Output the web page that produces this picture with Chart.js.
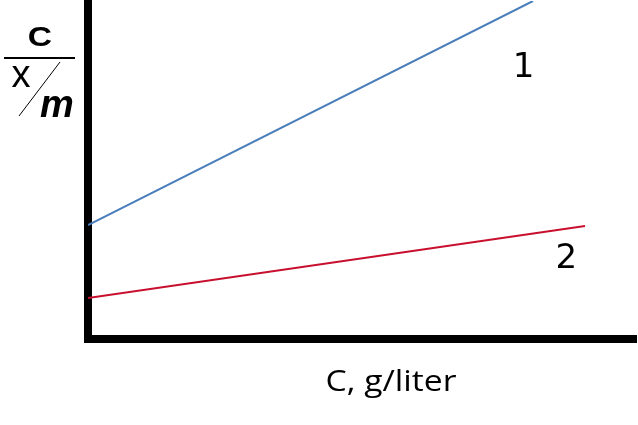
<!DOCTYPE html>
<html>
<head>
<meta charset="utf-8">
<script src="https://cdn.jsdelivr.net/npm/chart.js@4"></script>
<style>
  html, body { margin: 0; padding: 0; background: #fff; }
  canvas { display: block; }
</style>
</head>
<body>
<canvas id="chart" width="638" height="425"></canvas>
<script>
// concentration (arbitrary units, x axis 0..100)
const concStart = [0, 0];
const concEnd = [81.2, 90.7];
// C/(x/m) values at start and end of each line (y axis 0..100)
const line1Values = [33.7, 100];
const line2Values = [12.1, 33.4];
const seriesLabels = ['1', '2'];
const seriesColors = ['#4a7ebb', '#c8102e'];
const xTitle = 'C, g/liter';

// text labels placed next to each line, in data units
const labelAt = [{ x: 79.5, y: 81 }, { x: 87.3, y: 24.5 }];

const textPlugin = {
  id: 'texts',
  afterDraw(chart) {
    const ctx = chart.ctx;
    const xs = chart.scales.x, ys = chart.scales.y;
    ctx.save();
    ctx.fillStyle = '#000';
    ctx.textAlign = 'center';
    ctx.textBaseline = 'alphabetic';

    // line numbers
    ctx.font = '34px "DejaVu Sans"';
    seriesLabels.forEach((lab, i) => {
      ctx.fillText(lab, xs.getPixelForValue(labelAt[i].x), ys.getPixelForValue(labelAt[i].y) + 12);
    });

    // x axis title
    ctx.font = '30px "Open Sans"';
    const w = ctx.measureText(xTitle).width;
    ctx.save();
    ctx.translate(391, 391);
    ctx.scale(131 / w, 1);
    ctx.fillText(xTitle, 0, 0);
    ctx.restore();

    // y axis title:  C / (x/m)
    ctx.font = 'bold 28px "Liberation Sans"';
    ctx.save();
    ctx.translate(40, 46);
    ctx.scale(1.2, 1);
    ctx.fillText('C', 0, 0);
    ctx.restore();

    ctx.lineWidth = 2;
    ctx.beginPath();
    ctx.moveTo(4, 58);
    ctx.lineTo(75, 58);
    ctx.stroke();

    ctx.font = '38px "Liberation Sans"';
    ctx.fillText('x', 21, 87);

    ctx.lineWidth = 1;
    ctx.beginPath();
    ctx.moveTo(19, 116);
    ctx.lineTo(60, 62);
    ctx.stroke();

    ctx.font = 'bold italic 38px "Liberation Sans"';
    ctx.fillText('m', 57, 117);
    ctx.restore();
  }
};

new Chart(document.getElementById('chart'), {
  type: 'scatter',
  data: {
    datasets: [
      {
        label: seriesLabels[0],
        data: [
          { x: concStart[0], y: line1Values[0] },
          { x: concEnd[0], y: line1Values[1] }
        ],
        showLine: true,
        borderColor: seriesColors[0],
        borderWidth: 2,
        pointRadius: 0
      },
      {
        label: seriesLabels[1],
        data: [
          { x: concStart[1], y: line2Values[0] },
          { x: concEnd[1], y: line2Values[1] }
        ],
        showLine: true,
        borderColor: seriesColors[1],
        borderWidth: 2,
        pointRadius: 0
      }
    ]
  },
  options: {
    responsive: false,
    animation: false,
    layout: { padding: { left: 88, top: 1, right: 2, bottom: 86 } },
    plugins: { legend: { display: false }, tooltip: { enabled: false } },
    scales: {
      x: {
        type: 'linear', min: 0, max: 100,
        ticks: { display: false },
        grid: { display: false, drawTicks: false },
        border: { display: true, color: '#000', width: 8 }
      },
      y: {
        type: 'linear', min: 0, max: 100,
        ticks: { display: false },
        grid: { display: false, drawTicks: false },
        border: { display: true, color: '#000', width: 8 }
      }
    }
  },
  plugins: [textPlugin]
});
</script>
</body>
</html>
